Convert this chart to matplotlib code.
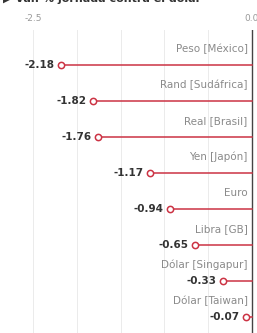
import matplotlib.pyplot as plt

# datos: variacion % de la jornada contra el dolar
monedas = ['Peso [México]', 'Rand [Sudáfrica]', 'Real [Brasil]', 'Yen [Japón]',
           'Euro', 'Libra [GB]', 'Dólar [Singapur]', 'Dólar [Taiwan]']
variacion = [-2.18, -1.82, -1.76, -1.17, -0.94, -0.65, -0.33, -0.07]
etiquetas = ['-2.18', '-1.82', '-1.76', '-1.17', '-0.94', '-0.65', '-0.33', '-0.07']

plt.rcParams['font.family'] = ['Liberation Sans Narrow', 'DejaVu Sans']
rojo = '#cc3344'

fig = plt.figure(figsize=(2.57, 3.33), dpi=100)
ax = fig.add_axes([0, 0, 1, 0.91])

for i, (v, lab) in enumerate(zip(variacion, etiquetas)):
    ax.plot([v, 0], [i, i], color=rojo, lw=1.1, zorder=3)
    ax.plot(v, i, 'o', ms=4.5, mfc='white', mec=rojo, mew=1.1, zorder=4)
    ax.text(v - 0.07, i, lab, ha='right', va='center', fontsize=7.5,
            fontweight='bold', color='#333333')
    ax.text(-0.05, i - 0.45, monedas[i], ha='right', va='center',
            fontsize=7.5, color='#8a8a8a')

ax.set_xlim(-2.877, 0.057)
ax.set_ylim(7.44, -0.97)
for g in [-2.5, -2.0, -1.5, -1.0, -0.5]:
    ax.axvline(g, color='#ebebeb', lw=0.7, zorder=0)
ax.axvline(0, color='#444444', lw=1.0, zorder=2)

ax.set_xticks([-2.5, 0])
ax.set_xticklabels(['-2.5', '0.0'])
ax.xaxis.tick_top()
ax.tick_params(axis='x', length=0, labelsize=6.5, labelcolor='#999999', pad=5)
ax.set_yticks([])
for s in ax.spines.values():
    s.set_visible(False)

fig.text(0.01, 1.005, '\u25b6 Var. % jornada contra el dólar', ha='left', va='center',
         fontsize=8, color='#333333', fontweight='bold')

fig.savefig('out.png', dpi=100)
